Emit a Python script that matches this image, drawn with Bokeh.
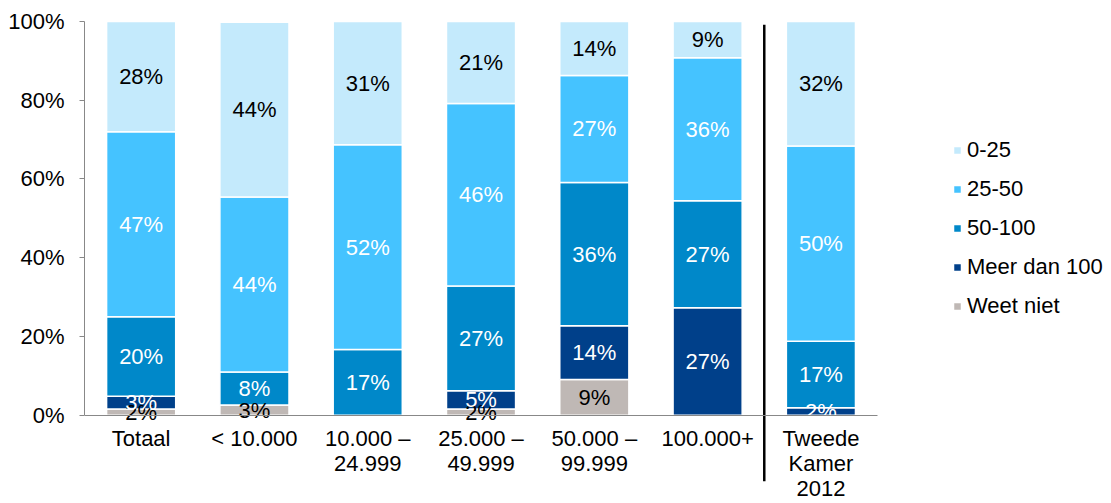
from bokeh.plotting import figure
from bokeh.models import (ColumnDataSource, Range1d, Legend, LegendItem,
                          PrintfTickFormatter, FixedTicker)
from bokeh.core.properties import value
from bokeh.embed import file_html
from bokeh.resources import INLINE

categories = ["Totaal", "< 10.000", "10.000 –\n24.999", "25.000 –\n49.999",
              "50.000 –\n99.999", "100.000+", "Tweede\nKamer\n2012"]
series = ["Weet niet", "Meer dan 100", "50-100", "25-50", "0-25"]
weet_niet    = [1.6, 2.6, 0.0, 1.6, 9.1, 0.0, 0.0]
meer_dan_100 = [3.2, 0.0, 0.0, 4.6, 13.6, 27.3, 1.9]
v50_100      = [20.2, 8.4, 16.7, 26.6, 36.4, 27.2, 16.9]
v25_50       = [47.0, 44.4, 52.0, 46.4, 27.2, 36.3, 49.6]
v0_25        = [28.0, 44.4, 31.3, 20.8, 13.7, 9.2, 31.6]
colors = ["#BFB8B5", "#00408A", "#0088C9", "#45C3FF", "#C4EAFC"]
label_colors = ["black", "white", "white", "white", "black"]
yticks = [0, 20, 40, 60, 80, 100]

values = [weet_niet, meer_dan_100, v50_100, v25_50, v0_25]
n = len(categories)
xs = [i + 0.5 for i in range(n)]
data = {"x": xs}
for s, v in zip(series, values):
    data[s] = v
source = ColumnDataSource(data)

FONT = "Liberation Sans"
FS = "22px"

p = figure(x_range=Range1d(0, 9.056), y_range=Range1d(-22.17, 105.33),
           width=1110, height=502, output_backend="svg", toolbar_location=None,
           min_border_left=84, min_border_right=0, min_border_top=0, min_border_bottom=0)
p.outline_line_color = None
p.xgrid.visible = False
p.ygrid.visible = False

renderers = p.vbar_stack(series, x="x", width=0.61, source=source, color=colors,
                         line_color="white", line_width=1.5)

# segment labels
lx, ly, lt, lc = [], [], [], []
for i in range(n):
    base = 0.0
    for j, v in enumerate(values):
        val = v[i]
        if val > 0:
            lx.append(xs[i])
            ly.append(base + val / 2)
            lt.append(f"{round(val)}%")
            lc.append(label_colors[j])
        base += val
lsrc = ColumnDataSource(dict(x=lx, y=ly, t=lt, c=lc))
p.text(x="x", y="y", text="t", source=lsrc, text_color="c",
       text_align="center", text_baseline="middle",
       text_font=value(FONT), text_font_size=FS)

# separator line before last category
p.segment(x0=[n - 1], y0=[99.2], x1=[n - 1], y1=[-16.8], line_color="black", line_width=2.5)

# axes
p.yaxis.bounds = (0, 100)
p.yaxis.ticker = FixedTicker(ticks=yticks)
p.yaxis.formatter = PrintfTickFormatter(format="%d%%")
p.yaxis.minor_tick_line_color = None
p.yaxis.major_tick_in = 0
p.yaxis.major_tick_out = 5
p.yaxis.axis_line_color = "#888888"
p.yaxis.major_tick_line_color = "#888888"
p.yaxis.major_label_text_font = FONT
p.yaxis.major_label_text_font_size = FS
p.yaxis.major_label_text_color = "black"
p.yaxis.major_label_standoff = 15

p.xaxis.fixed_location = 0
p.xaxis.bounds = (0, n)
p.xaxis.ticker = FixedTicker(ticks=xs)
p.xaxis.major_label_overrides = {x: c for x, c in zip(xs, categories)}
p.xaxis.axis_line_color = "#888888"
p.xaxis.major_tick_line_color = None
p.xaxis.minor_tick_line_color = None
p.xaxis.major_label_text_font = FONT
p.xaxis.major_label_text_font_size = FS
p.xaxis.major_label_text_color = "black"
p.xaxis.major_label_text_line_height = 1.0
p.xaxis.major_label_standoff = 5

items = [LegendItem(label=s, renderers=[r]) for s, r in zip(series[::-1], renderers[::-1])]
legend = Legend(items=items, location=(868, 183), padding=0, margin=0,
                glyph_width=10, glyph_height=10, label_height=20, spacing=13,
                label_standoff=5, border_line_color=None, background_fill_alpha=0,
                label_text_font=FONT, label_text_font_size=FS, label_text_color="black")
p.add_layout(legend, "center")

open("out.html", "w").write(file_html(p, INLINE))
